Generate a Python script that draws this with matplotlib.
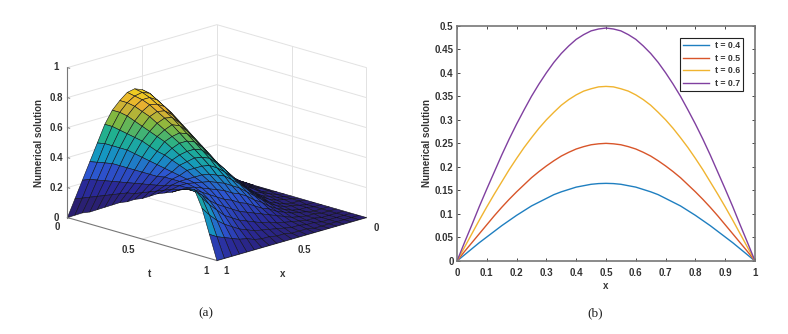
import numpy as np
import matplotlib
matplotlib.use('Agg')
import matplotlib.pyplot as plt
from matplotlib.colors import LinearSegmentedColormap

plt.rcParams['font.family'] = ['Liberation Sans', 'DejaVu Sans']
plt.rcParams['font.weight'] = 'bold'
plt.rcParams['axes.labelweight'] = 'bold'

TEXT = '#333333'
W, H = 788, 334

# left panel, rows are t = 0 ... 1, columns are x = 1 ... 0
t_grid = [0, .05, .1, .15, .2, .25, .3, .35, .4, .45, .5, .55, .6, .65, .7, .75, .8, .85, .9, .95, 1]
x_grid = [1, .95, .9, .85, .8, .75, .7, .65, .6, .55, .5, .45, .4, .35, .3, .25, .2, .15, .1, .05, 0]
z_table = [
    [0, .11, .22, .33, .44, .55, .63, .68, .72, .73, .71, .66, .58, .49, .40, .32, .25, .18, .11, .05, 0],
    [.03, .13, .24, .34, .45, .55, .63, .68, .71, .72, .70, .64, .56, .47, .38, .30, .23, .16, .10, .05, 0],
    [.06, .15, .25, .35, .45, .54, .62, .67, .70, .70, .67, .61, .53, .44, .35, .27, .20, .14, .09, .04, 0],
    [.08, .17, .26, .36, .45, .53, .60, .65, .68, .67, .64, .58, .49, .40, .32, .24, .18, .12, .08, .04, 0],
    [.11, .19, .27, .36, .45, .52, .58, .63, .65, .64, .60, .54, .46, .37, .29, .22, .16, .11, .07, .03, 0],
    [.14, .21, .28, .36, .44, .51, .56, .60, .62, .61, .56, .50, .42, .34, .26, .19, .14, .10, .06, .03, 0],
    [.17, .23, .29, .36, .43, .49, .54, .57, .59, .57, .52, .46, .38, .30, .23, .17, .12, .08, .05, .02, 0],
    [.20, .25, .30, .36, .42, .47, .52, .54, .55, .53, .48, .42, .35, .27, .20, .15, .10, .07, .04, .02, 0],
    [.22, .26, .31, .36, .41, .46, .49, .51, .51, .49, .44, .38, .31, .24, .18, .13, .09, .06, .03, .02, 0],
    [.25, .28, .32, .36, .40, .44, .46, .47, .47, .45, .40, .34, .28, .21, .16, .11, .07, .05, .03, .01, 0],
    [.27, .30, .33, .37, .39, .42, .43, .44, .43, .41, .36, .31, .25, .19, .14, .09, .06, .04, .02, .01, 0],
    [.30, .32, .34, .37, .38, .40, .40, .40, .39, .36, .32, .27, .22, .16, .12, .08, .05, .03, .02, .01, 0],
    [.33, .34, .36, .37, .37, .37, .37, .36, .34, .32, .28, .24, .19, .14, .10, .06, .04, .02, .01, .01, 0],
    [.35, .36, .37, .37, .36, .35, .34, .32, .30, .27, .24, .20, .16, .12, .08, .05, .03, .02, .01, 0, 0],
    [.37, .37, .37, .36, .34, .32, .30, .28, .25, .23, .20, .16, .13, .09, .06, .04, .02, .01, .01, 0, 0],
    [.40, .39, .37, .34, .31, .28, .25, .23, .20, .18, .15, .12, .10, .07, .05, .03, .02, .01, 0, 0, 0],
    [.42, .39, .35, .30, .26, .23, .20, .17, .15, .13, .11, .09, .07, .05, .03, .02, .01, .01, 0, 0, 0],
    [.43, .36, .30, .25, .20, .17, .14, .12, .10, .08, .07, .05, .04, .03, .02, .01, .01, 0, 0, 0, 0],
    [.32, .26, .21, .17, .14, .11, .09, .07, .06, .05, .04, .03, .02, .02, .01, .01, 0, 0, 0, 0, 0],
    [.16, .13, .11, .09, .07, .06, .04, .03, .03, .02, .02, .01, .01, .01, 0, 0, 0, 0, 0, 0, 0],
    [0, 0, 0, 0, 0, 0, 0, 0, 0, 0, 0, 0, 0, 0, 0, 0, 0, 0, 0, 0, 0],
]
# the lower rim of the hump is dark in the picture although it sits high up,
# so it gets its own shade offset per row / column
rim_rows = [0, .02, .05, .07, .09, .11, .13, .16, .18, .20, .21, .22, .23, .22, .20, .16, .11, .05, 0, 0, 0]
rim_cols = [1, .9, .8, .7, .6, .5, .4, .3, .2, .1, 0, 0, 0, 0, 0, 0, 0, 0, 0, 0, 0]
z_ticks = [0, .2, .4, .6, .8, 1]

# right panel, left half of each curve, they mirror about x = 0.5
x_line = [0, .025, .05, .075, .1, .125, .15, .175, .2, .225, .25, .275, .3, .325, .35, .375, .4, .425, .45, .475, .5,
          .525, .55, .575, .6, .625, .65, .675, .7, .725, .75, .775, .8, .825, .85, .875, .9, .925, .95, .975, 1]
t04 = [0, .013, .026, .039, .051, .063, .075, .086, .097, .107, .117, .125, .133, .141, .147, .152, .157, .160, .163, .1645, .165]
t05 = [0, .020, .039, .058, .077, .096, .114, .131, .147, .162, .177, .190, .202, .213, .223, .231, .238, .243, .247, .249, .250]
t06 = [0, .029, .058, .087, .115, .142, .168, .194, .218, .241, .262, .282, .300, .316, .331, .343, .353, .361, .366, .370, .371]
t07 = [0, .039, .077, .116, .153, .189, .225, .259, .291, .321, .350, .376, .400, .422, .441, .457, .471, .481, .489, .493, .495]
labels = ['t = 0.4', 't = 0.5', 't = 0.6', 't = 0.7']
line_colors = ['#1f7fc0', '#d8552a', '#f0b430', '#8040a0']

parula = LinearSegmentedColormap.from_list('parula', [
    (0, '#2a1f70'), (.15, '#2a2a98'), (.3, '#2d55d0'), (.45, '#1598c0'), (.6, '#20b090'),
    (.75, '#80b840'), (.9, '#e8b030'), (1, '#f0d020')])

fig = plt.figure(figsize=(7.88, 3.34), dpi=100)


def label_px(x, y, s, **kw):
    kw.setdefault('fontsize', 7)
    kw.setdefault('color', TEXT)
    fig.text(x / W, 1 - y / H, s, ha='center', va='center', **kw)


# ---- (a) surface
ax3 = fig.add_axes([.0146, -.0419, .5076, 1.1976], projection='3d')
ax3.set_proj_type('ortho')
ax3.view_init(elev=16.7, azim=45)
ax3.set_box_aspect((212, 212, 157), zoom=.819)
ax3.set_xlim(0, 1)
ax3.set_ylim(0, 1)
ax3.set_zlim(0, 1)
ax3.set_axis_off()
ax3.computed_zorder = False

X, T = np.meshgrid(x_grid, t_grid)
Z = np.array(z_table)
shade = np.clip(Z - np.outer(rim_rows, rim_cols), 0, None)
face = parula(shade / Z.max())

grid_c = '#e2e2e2'
for z in z_ticks[1:]:
    ax3.plot([1, 0, 0], [0, 0, 1], [z, z, z], color=grid_c, lw=0.7, zorder=1)
ax3.plot([1, 0, 0], [0, 0, 1], [0, 0, 0], color=grid_c, lw=0.7, zorder=1)
ax3.plot([0, 0], [0, 0], [0, 1], color=grid_c, lw=0.7, zorder=1)
ax3.plot([0, 0], [1, 1], [0, 1], color=grid_c, lw=0.7, zorder=1)
ax3.plot([.5, .5], [0, 0], [0, 1], color=grid_c, lw=0.7, zorder=1)
ax3.plot([0, 0], [.5, .5], [0, 1], color=grid_c, lw=0.7, zorder=1)
ax3.plot([.5, .5], [0, 1], [0, 0], color=grid_c, lw=0.7, zorder=1)
ax3.plot([0, 1], [.5, .5], [0, 0], color=grid_c, lw=0.7, zorder=1)

ax3.plot_surface(X, T, Z, facecolors=face, rstride=1, cstride=1, shade=False,
                 edgecolor='#101018', linewidth=0.4, antialiased=True, zorder=2)

axis_c = '#777777'
ax3.plot([1, 1], [0, 0], [0, 1], color=axis_c, lw=0.8, zorder=3)
ax3.plot([1, 1], [0, 1], [0, 0], color=axis_c, lw=0.8, zorder=1.5)
ax3.plot([1, 0], [1, 1], [0, 0], color=axis_c, lw=0.8, zorder=1.5)
for z in z_ticks:
    ax3.plot([1, 1], [0, .015], [z, z], color=axis_c, lw=0.7, zorder=3)

for y, z in zip([218, 187.7, 157.7, 128, 98, 67.3], z_ticks):
    label_px(56, y, '%g' % z)
label_px(57, 227, '0')
label_px(128, 250, '0.5')
label_px(206, 271, '1')
label_px(226, 271, '1')
label_px(304, 250, '0.5')
label_px(376, 228, '0')
label_px(149, 274, 't')
label_px(283, 274, 'x')
label_px(38.5, 143, 'Numerical solution', rotation=90)
label_px(206, 313, '(a)', family='Liberation Serif', weight='normal', fontsize=9.5, color='#222222')

# ---- (b) curves
ax = fig.add_axes([457 / W, 1 - 261 / H, 298 / W, 235.3 / H])
for half, lab, c in zip([t04, t05, t06, t07], labels, line_colors):
    ax.plot(x_line, half + half[-2::-1], color=c, lw=1.0, label=lab)
ax.set_xlim(0, 1)
ax.set_ylim(0, .5)
ax.set_xticks(np.arange(0, 1.01, .1))
ax.set_yticks(np.arange(0, .501, .05))
ax.set_xticklabels(['0', '0.1', '0.2', '0.3', '0.4', '0.5', '0.6', '0.7', '0.8', '0.9', '1'])
ax.set_yticklabels(['0', '0.05', '0.1', '0.15', '0.2', '0.25', '0.3', '0.35', '0.4', '0.45', '0.5'])
ax.tick_params(direction='in', top=True, right=True, length=2.5, width=0.7, color='#444444',
               labelsize=7, labelcolor=TEXT, pad=2.5)
ax.tick_params(axis='x', pad=5)
for s in ax.spines.values():
    s.set_color('#777777')
    s.set_linewidth(1.2)
ax.set_xlabel('x', fontsize=7, color=TEXT, labelpad=2)
ax.set_ylabel('Numerical solution', fontsize=7, color=TEXT, labelpad=2)
leg = ax.legend(loc='upper right', bbox_to_anchor=(0.9597, 0.9477), fontsize=6.3, frameon=True, fancybox=False,
                framealpha=1, edgecolor='#222222', borderpad=0.35, labelspacing=0.4, handlelength=3.0,
                handletextpad=0.6, borderaxespad=0)
leg.get_frame().set_linewidth(0.8)
for t in leg.get_texts():
    t.set_color(TEXT)

label_px(595, 313, '(b)', family='Liberation Serif', weight='normal', fontsize=9.5, color='#222222')

fig.savefig('out.png', dpi=100)
